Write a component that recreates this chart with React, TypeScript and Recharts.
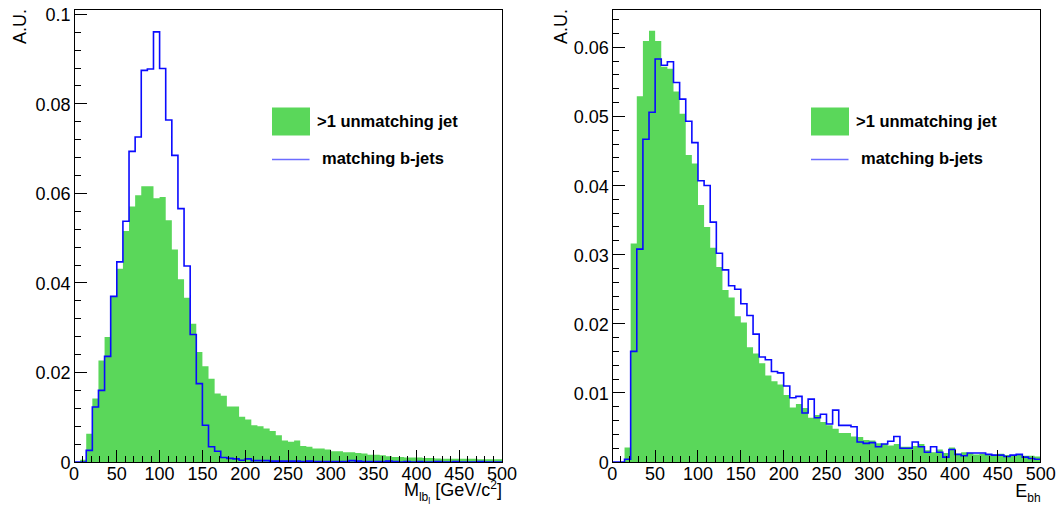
import React from 'react';
import { ComposedChart, Area, Line, XAxis, YAxis, ReferenceArea, Legend } from 'recharts';

// Histogram range / binning
const X_MIN = 0;
const X_MAX = 500;
const N_BINS = 70;

// Left panel: M_lb_l
const LEFT_UNMATCHED = [
  0, 0.0005, 0.0063, 0.0142, 0.0227, 0.0279, 0.0369, 0.0432, 0.0516, 0.0571,
  0.0596, 0.0616, 0.0616, 0.0589, 0.0592, 0.054, 0.0475, 0.0408, 0.0367, 0.0309,
  0.0246, 0.0214, 0.0186, 0.0153, 0.0148, 0.0124, 0.0124, 0.0101, 0.0095, 0.0082,
  0.008, 0.0075, 0.0069, 0.006, 0.0048, 0.0045, 0.0048, 0.0036, 0.0034, 0.003,
  0.003, 0.0028, 0.0024, 0.0024, 0.0022, 0.0022, 0.002, 0.0019, 0.0016, 0.0016,
  0.0015, 0.0013, 0.0011, 0.0011, 0.001, 0.001, 0.001, 0.0009, 0.0009, 0.0008,
  0.0007, 0.0007, 0.0007, 0.0007, 0.0007, 0.0007, 0.0006, 0.0006, 0.0006, 0.0006,
];
const LEFT_MATCHED = [
  0, 0, 0.0026, 0.0123, 0.016, 0.0236, 0.037, 0.0447, 0.0538, 0.0694,
  0.0726, 0.0875, 0.0878, 0.0961, 0.0879, 0.0764, 0.0685, 0.0566, 0.0438, 0.0285,
  0.0175, 0.0082, 0.0034, 0.0024, 0.001, 0.0008, 0.0007, 0.0004, 0.0007, 0.0003,
  0.0003, 0.0003, 0.0002, 0.0002, 0.0002, 0.0002, 0.0002, 0.0001, 0.0002, 0.0001,
  0.0001, 0.0001, 0.0001, 0.0001, 0.0001, 0.0003, 0.0002, 0.0001, 0.0001, 0.0001,
  0.0001, 0.0002, 0.0001, 0, 0.0001, 0, 0.0001, 0, 0, 0.0001,
  0, 0, 0.0001, 0, 0, 0, 0.0001, 0, 0, 0,
];

// Right panel: E_bh
const RIGHT_UNMATCHED = [
  0, 0, 0.0021, 0.0316, 0.0529, 0.0609, 0.0624, 0.0609, 0.0572, 0.0569,
  0.0536, 0.0504, 0.0444, 0.0432, 0.0372, 0.034, 0.031, 0.0282, 0.0249, 0.0238,
  0.0211, 0.0202, 0.0166, 0.0157, 0.0143, 0.0125, 0.0117, 0.0112, 0.0097, 0.0079,
  0.0084, 0.0078, 0.0064, 0.0068, 0.0058, 0.0053, 0.0048, 0.0042, 0.0042, 0.0037,
  0.0036, 0.0032, 0.0031, 0.0027, 0.0026, 0.0024, 0.0026, 0.0022, 0.0022, 0.0023,
  0.0026, 0.0017, 0.0014, 0.0018, 0.0013, 0.0021, 0.0012, 0.0014, 0.0013, 0.0011,
  0.0012, 0.0011, 0.0011, 0.0012, 0.001, 0.001, 0.001, 0.0009, 0.0009, 0.0008,
];
const RIGHT_MATCHED = [
  0, 0, 0.0004, 0.016, 0.0308, 0.0467, 0.0506, 0.0583, 0.0574, 0.0579,
  0.0549, 0.0525, 0.0493, 0.0462, 0.0407, 0.04, 0.0347, 0.0302, 0.0278, 0.0255,
  0.025, 0.0229, 0.0212, 0.0185, 0.0152, 0.0148, 0.0131, 0.0129, 0.011, 0.0093,
  0.0095, 0.0071, 0.0091, 0.0064, 0.0069, 0.0055, 0.0075, 0.0053, 0.0053, 0.0051,
  0.0029, 0.0027, 0.0028, 0.0022, 0.0026, 0.003, 0.0037, 0.002, 0.002, 0.0029,
  0.0022, 0.0014, 0.0022, 0.0014, 0.0007, 0.0018, 0.0011, 0.0009, 0.0013, 0.0013,
  0.0013, 0.0011, 0.001, 0.001, 0.0008, 0.001, 0.0011, 0.0007, 0.0005, 0.0004,
];

// Axis ticks
const X_TICKS = [0,10,20,30,40,50,60,70,80,90,100,110,120,130,140,150,160,170,180,190,200,210,220,230,240,250,260,270,280,290,300,310,320,330,340,350,360,370,380,390,400,410,420,430,440,450,460,470,480,490,500];
const X_MAJOR = [0, 50, 100, 150, 200, 250, 300, 350, 400, 450, 500];
const X_LABELS = ['0', '50', '100', '150', '200', '250', '300', '350', '400', '450', '500'];

const LEFT_Y_TICKS = [0,0.004,0.008,0.012,0.016,0.02,0.024,0.028,0.032,0.036,0.04,0.044,0.048,0.052,0.056,0.06,0.064,0.068,0.072,0.076,0.08,0.084,0.088,0.092,0.096,0.1];
const LEFT_Y_MAJOR = [0, 0.02, 0.04, 0.06, 0.08, 0.1];
const LEFT_Y_LABELS = ['0', '0.02', '0.04', '0.06', '0.08', '0.1'];
const LEFT_Y_MAX = 0.1012;

const RIGHT_Y_TICKS = [0,0.002,0.004,0.006,0.008,0.01,0.012,0.014,0.016,0.018,0.02,0.022,0.024,0.026,0.028,0.03,0.032,0.034,0.036,0.038,0.04,0.042,0.044,0.046,0.048,0.05,0.052,0.054,0.056,0.058,0.06,0.062,0.064];
const RIGHT_Y_MAJOR = [0, 0.01, 0.02, 0.03, 0.04, 0.05, 0.06];
const RIGHT_Y_LABELS = ['0', '0.01', '0.02', '0.03', '0.04', '0.05', '0.06'];
const RIGHT_Y_MAX = 0.06554;

const LEGEND_LABELS = ['>1 unmatching jet', 'matching b-jets'];
const Y_TITLE = 'A.U.';

const FONT = '"Liberation Sans", Arial, Helvetica, sans-serif';
const GREEN = '#5ad75a';
const BLUE = '#0a0aff';

function buildData(unmatched: number[], matched: number[]) {
  const w = (X_MAX - X_MIN) / N_BINS;
  const rows = unmatched.map((v, i) => ({ x: X_MIN + i * w, unmatched: v, matched: matched[i] }));
  rows.push({ x: X_MAX, unmatched: unmatched[unmatched.length - 1], matched: matched[matched.length - 1] });
  return rows;
}

function findMajor(v: number, majors: number[]) {
  return majors.findIndex((m) => Math.abs(m - v) < 1e-9);
}

function XTick(props: any) {
  const { x, y, payload } = props;
  const idx = findMajor(payload.value, X_MAJOR);
  const major = idx >= 0;
  return (
    <g>
      <line x1={x} x2={x} y1={y} y2={y - (major ? 12 : 6)} stroke="#000" strokeWidth={1} shapeRendering="crispEdges" />
      {major && (
        <text x={x} y={y + 18} textAnchor="middle" fontSize={18} fontFamily={FONT} fill="#000">
          {X_LABELS[idx]}
        </text>
      )}
    </g>
  );
}

function makeYTick(majors: number[], labels: string[]) {
  return function YTick(props: any) {
    const { x, y, payload } = props;
    const idx = findMajor(payload.value, majors);
    const major = idx >= 0;
    return (
      <g>
        <line x1={x} x2={x + (major ? 13 : 6.5)} y1={y} y2={y} stroke="#000" strokeWidth={1} shapeRendering="crispEdges" />
        {major && (
          <text x={x - 3.5} y={y + 7} textAnchor="end" fontSize={18} fontFamily={FONT} fill="#000">
            {labels[idx]}
          </text>
        )}
      </g>
    );
  };
}

function LegendBox() {
  return (
    <svg width={240} height={80} style={{ display: 'block', overflow: 'visible' }}>
      <rect x={0} y={7.5} width={38} height={28} fill={GREEN} />
      <text x={45} y={27} fontWeight="bold" fontSize={16.5} fontFamily={FONT} fill="#000">
        {LEGEND_LABELS[0]}
      </text>
      <line x1={0} x2={37.5} y1={59.5} y2={59.5} stroke="#6c6cff" strokeWidth={1.4} />
      <text x={50} y={64} fontWeight="bold" fontSize={16.5} fontFamily={FONT} fill="#000">
        {LEGEND_LABELS[1]}
      </text>
    </svg>
  );
}

type PanelProps = {
  unmatched: number[];
  matched: number[];
  yMax: number;
  yTicks: number[];
  yMajor: number[];
  yLabels: string[];
  marginLeft: number;
  marginRight: number;
  legendLeft: number;
  yTitleX: number;
  xTitle: React.ReactNode;
};

function Panel(p: PanelProps) {
  const data = buildData(p.unmatched, p.matched);
  const YTick = makeYTick(p.yMajor, p.yLabels);
  return (
    <ComposedChart
      width={532}
      height={508}
      data={data}
      margin={{ top: 9, right: p.marginRight, bottom: 16, left: p.marginLeft }}
    >
      <XAxis
        type="number"
        dataKey="x"
        domain={[X_MIN, X_MAX]}
        ticks={X_TICKS}
        interval={0}
        tickSize={0}
        tickMargin={0}
        tickLine={false}
        axisLine={false}
        height={30}
        allowDataOverflow
        tick={(t: any) => <XTick {...t} />}
        label={{ content: () => p.xTitle } as any}
      />
      <YAxis
        type="number"
        domain={[0, p.yMax]}
        ticks={p.yTicks}
        interval={0}
        tickSize={0}
        tickMargin={0}
        tickLine={false}
        axisLine={false}
        width={60}
        allowDataOverflow
        tick={(t: any) => <YTick {...t} />}
        label={{
          content: () => (
            <text
              transform={`translate(${p.yTitleX},9) rotate(-90)`}
              textAnchor="end"
              fontSize={18}
              fontFamily={FONT}
              fill="#000"
            >
              {Y_TITLE}
            </text>
          ),
        } as any}
      />
      <Area
        type="stepAfter"
        dataKey="unmatched"
        fill={GREEN}
        fillOpacity={1}
        stroke="none"
        isAnimationActive={false}
        activeDot={false}
      />
      <Line
        type="stepAfter"
        dataKey="matched"
        stroke={BLUE}
        strokeWidth={1.6}
        dot={false}
        activeDot={false}
        isAnimationActive={false}
      />
      <ReferenceArea
        x1={X_MIN}
        x2={X_MAX}
        y1={0}
        y2={p.yMax}
        fill="none"
        fillOpacity={0}
        stroke="#000"
        strokeWidth={1}
        ifOverflow="visible"
        shapeRendering="crispEdges"
      />
      <Legend
        layout="horizontal"
        verticalAlign="middle"
        align="center"
        wrapperStyle={{ position: 'absolute', left: p.legendLeft, top: 100, width: 240, height: 80 }}
        content={() => <LegendBox />}
      />
    </ComposedChart>
  );
}

const leftTitle = (
  <text x={502} y={496} textAnchor="end" fontSize={18} fontFamily={FONT} fill="#000" style={{ whiteSpace: 'pre' }}>
    <tspan>M</tspan>
    <tspan fontSize={12} dy={5}>lb</tspan>
    <tspan fontSize={9} dy={3}>l</tspan>
    <tspan fontSize={18} dy={-8}>{' [GeV/c'}</tspan>
    <tspan fontSize={12} dy={-7}>2</tspan>
    <tspan fontSize={18} dy={7}>]</tspan>
  </text>
);

const rightTitle = (
  <text x={508.7} y={497} textAnchor="end" fontSize={18} fontFamily={FONT} fill="#000">
    <tspan>E</tspan>
    <tspan fontSize={12} dy={5}>bh</tspan>
  </text>
);

export default function App() {
  return (
    <div style={{ position: 'absolute', left: 0, top: 0, width: 1064, height: 508, background: '#fff' }}>
      <div style={{ position: 'absolute', left: 0, top: 0 }}>
        <Panel
          unmatched={LEFT_UNMATCHED}
          matched={LEFT_MATCHED}
          yMax={LEFT_Y_MAX}
          yTicks={LEFT_Y_TICKS}
          yMajor={LEFT_Y_MAJOR}
          yLabels={LEFT_Y_LABELS}
          marginLeft={14}
          marginRight={30}
          legendLeft={272}
          yTitleX={26}
          xTitle={leftTitle}
        />
      </div>
      <div style={{ position: 'absolute', left: 532, top: 0 }}>
        <Panel
          unmatched={RIGHT_UNMATCHED}
          matched={RIGHT_MATCHED}
          yMax={RIGHT_Y_MAX}
          yTicks={RIGHT_Y_TICKS}
          yMajor={RIGHT_Y_MAJOR}
          yLabels={RIGHT_Y_LABELS}
          marginLeft={20.3}
          marginRight={23.3}
          legendLeft={278.7}
          yTitleX={35}
          xTitle={rightTitle}
        />
      </div>
    </div>
  );
}
